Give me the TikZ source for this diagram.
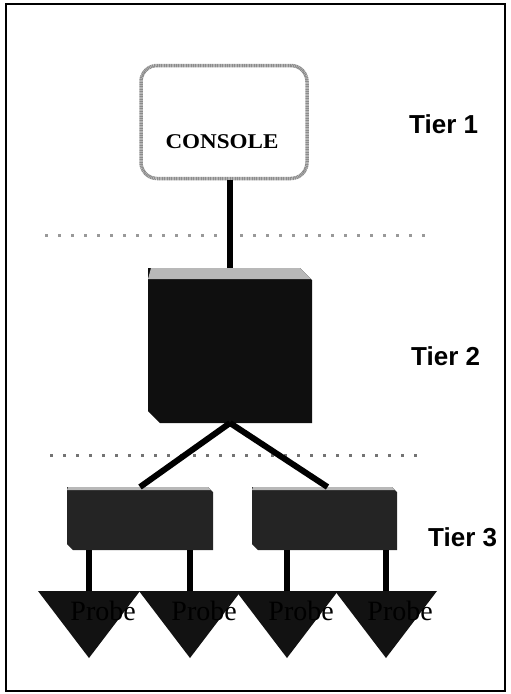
\documentclass[tikz,border=0pt]{standalone}
\usepackage{fontspec}
\setmainfont{Liberation Serif}
\newfontfamily\tierfont{Liberation Sans}
\usetikzlibrary{calc}
\tikzset{
  frame/.style={draw=black,line width=2},
  consolebox/.style={draw=black!45,line width=3.5,dash pattern=on 1.2pt off 0.5pt,rounded corners=16,fill=white,minimum width=166,minimum height=113,inner sep=0},
  boxnode/.style={rectangle,draw=none,fill=none,inner sep=0,outer sep=0},
  bigfill/.style={fill=black!94},
  smallfill/.style={fill=black!86},
  bevel/.style={fill=black!28},
  link/.style={draw=black,line width=6},
  tierlabel/.style={font=\tierfont\bfseries\fontsize{26}{30}\selectfont,anchor=base west,inner sep=0},
  probe/.style={fill=black!93},
  probetext/.style={font=\fontsize{28}{30}\selectfont,anchor=base east,inner sep=0,text=black},
  sep/.style={draw=black!40,line width=3,dash pattern=on 3pt off 10pt},
}
\begin{document}
\begin{tikzpicture}[x=1pt,y=-1pt]
\useasboundingbox (0,0) rectangle (511,694);
\draw[frame] (6,4) rectangle (505,691);
% separators
\draw[sep] (45,235) -- (435,235);
\draw[sep,draw=black!55] (50,455) -- (425,455);
% console
\node[consolebox] (console) at (224,122) {};
\node[font=\bfseries\fontsize{21}{24}\selectfont,anchor=base,inner sep=0] (constext) at (222,148) {\scalebox{1.1}[1]{CONSOLE}};
% tier 2 box
\node[boxnode,minimum width=164,minimum height=155] (tier2) at (230,345.5) {};
\fill[bigfill] (148,268) -- (300,268) -- (312,280) -- (312,423) -- (160,423) -- (148,411) -- cycle;
\fill[bevel] (148,279) -- (151,268) -- (300,268) -- (311,279) -- cycle;
% tier 3 boxes
\node[boxnode,minimum width=146,minimum height=63] (t3a) at (140,518.5) {};
\node[boxnode,minimum width=145,minimum height=63] (t3b) at (324.5,518.5) {};
\fill[smallfill] (67,487) -- (208,487) -- (213,492) -- (213,550) -- (73,550) -- (67,544) -- cycle;
\fill[smallfill] (252,487) -- (392,487) -- (397,492) -- (397,550) -- (258,550) -- (252,544) -- cycle;
\fill[bevel] (67,490) -- (68,487) -- (208,487) -- (211,490) -- cycle;
\fill[bevel] (252,490) -- (253,487) -- (392,487) -- (395,490) -- cycle;
% probes
\foreach \n/\c in {pa/89,pb/190,pc/287,pd/386}{
  \coordinate (\n) at (\c,591);
  \fill[probe] (\c-51,591) -- (\c+51,591) -- (\c,658) -- cycle;
  \node[probetext] (\n t) at (\c+47,620) {Probe};
}
% connectors
\draw[link] (tier2.north) -- (tier2.north |- console.south);
\draw[link] (tier2.south) -- (t3a.north);
\draw[link] (tier2.south) -- ($(t3b.north)+(3,0)$);
\draw[link] (t3a.south -| pa) -- (pa);
\draw[link] (t3a.south -| pb) -- (pb);
\draw[link] (t3b.south -| pc) -- (pc);
\draw[link] (t3b.south -| pd) -- (pd);
% tier labels
\node[tierlabel] (tier1lbl) at (409,133) {Tier 1};
\node[tierlabel] (tier2lbl) at (411,365) {Tier 2};
\node[tierlabel] (tier3lbl) at (428,546) {Tier 3};
\end{tikzpicture}
\end{document}
